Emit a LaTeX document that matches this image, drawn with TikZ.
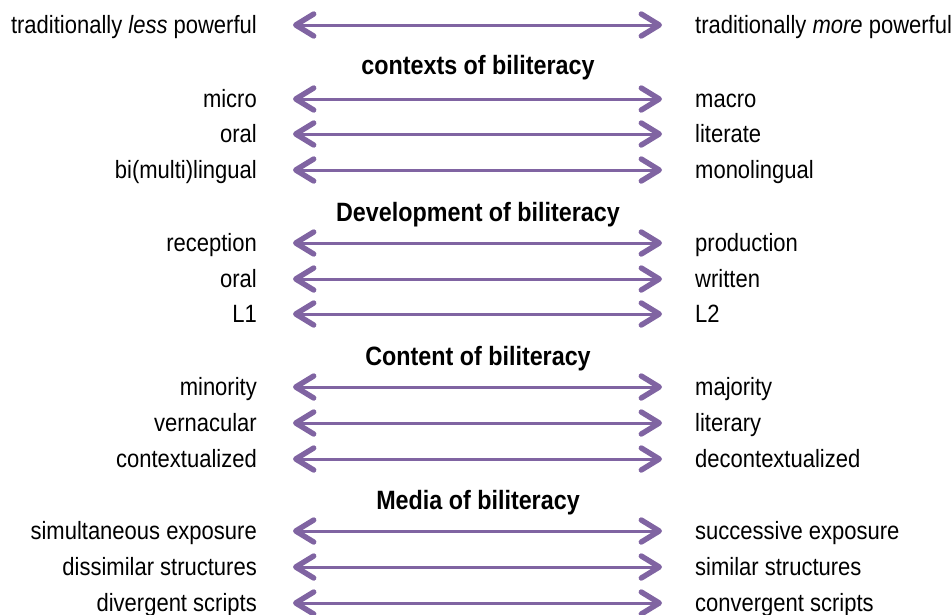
\documentclass[tikz,border=0pt]{standalone}
\usepackage{fontspec}
\setmainfont{Liberation Sans}[FakeStretch=0.88]
\usepackage{tikz}
\usetikzlibrary{arrows.meta}
\definecolor{polepurple}{RGB}{128,100,162}

\begin{document}
\begin{tikzpicture}[
                x=1pt, y=-1pt,
                lside/.style={anchor=east, inner sep=0pt, font=\fontsize{25}{29}\selectfont, text height=17pt, text depth=0pt},
                rside/.style={anchor=west, inner sep=0pt, font=\fontsize{25}{29}\selectfont, text height=17pt, text depth=0pt},
                head/.style={anchor=base, inner sep=0pt, font=\fontsize{26.5}{30}\selectfont\bfseries},
                pole/.style={{Straight Barb[length=18pt,width=22pt,line width=0pt 1.8,round]}-{Straight Barb[length=18pt,width=22pt,line width=0pt 1.8,round]}, polepurple, line width=3pt, shorten <=36pt, shorten >=33pt}
            ]
                \useasboundingbox (0,0) rectangle (951,614);

                \node[lside] (lesspow) at (257,25) {traditionally \textit{less} powerful};
                \node[rside] (morepow) at (695,25) {traditionally \textit{more} powerful};
                \draw[pole] (lesspow) -- (morepow);

                % contexts
                \node[head] (contexts) at (478,74) {contexts of biliteracy};
                \node[lside] (micro) at (257,99) {micro};
                \node[rside] (macro) at (695,99) {macro};
                \node[lside] (oral) at (257,134) {oral};
                \node[rside] (literate) at (695,134) {literate};
                \node[lside] (bimulti) at (257,170) {bi(multi)lingual};
                \node[rside] (mono) at (695,170) {monolingual};
                \draw[pole] (micro) -- (macro);
                \draw[pole] (oral) -- (literate);
                \draw[pole] (bimulti) -- (mono);

                % development
                \node[head] (develop) at (478,221) {Development of biliteracy};
                \node[lside] (recep) at (257,243) {reception};
                \node[rside] (prod) at (695,243) {production};
                \node[lside] (oraltwo) at (257,279) {oral};
                \node[rside] (written) at (695,279) {written};
                \node[lside] (lone) at (257,314) {L1};
                \node[rside] (ltwo) at (695,314) {L2};
                \draw[pole] (recep) -- (prod);
                \draw[pole] (oraltwo) -- (written);
                \draw[pole] (lone) -- (ltwo);

                % content
                \node[head] (content) at (478,365) {Content of biliteracy};
                \node[lside] (minority) at (257,387) {minority};
                \node[rside] (majority) at (695,387) {majority};
                \node[lside] (vern) at (257,423) {vernacular};
                \node[rside] (literary) at (695,423) {literary};
                \node[lside] (contextual) at (257,459) {contextualized};
                \node[rside] (decontextual) at (695,459) {decontextualized};
                \draw[pole] (minority) -- (majority);
                \draw[pole] (vern) -- (literary);
                \draw[pole] (contextual) -- (decontextual);

                % media
                \node[head] (media) at (478,509) {Media of biliteracy};
                \node[lside] (simul) at (257,531) {simultaneous exposure};
                \node[rside] (success) at (695,531) {successive exposure};
                \node[lside] (dissim) at (257,567) {dissimilar structures};
                \node[rside] (similar) at (695,567) {similar structures};
                \node[lside] (diverg) at (257,603) {divergent scripts};
                \node[rside] (converg) at (695,603) {convergent scripts};
                \draw[pole] (simul) -- (success);
                \draw[pole] (dissim) -- (similar);
                \draw[pole] (diverg) -- (converg);
            \end{tikzpicture}
\end{document}
